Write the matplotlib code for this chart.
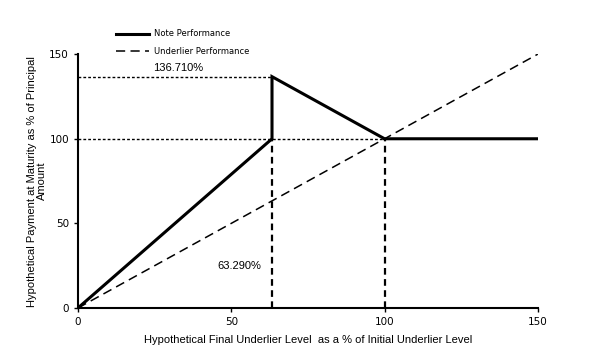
import matplotlib
matplotlib.use("Agg")
import matplotlib.pyplot as plt

# Data
note_x = [0, 63.29, 63.29, 100, 150]
note_y = [0, 100, 136.71, 100, 100]
under_x = [0, 150]
under_y = [0, 150]
barrier = 63.29
cap = 136.71
xticks = [0, 50, 100, 150]
yticks = [0, 50, 100, 150]

fig = plt.figure(figsize=(6.07, 3.54), dpi=100)
ax = fig.add_axes([0.1285, 0.130, 0.7575, 0.717])

ax.plot(note_x, note_y, color='black', lw=2.2, label='Note Performance', solid_joinstyle='miter')
ax.plot(under_x, under_y, color='black', lw=1.1, ls=(0, (6, 3.5)), label='Underlier Performance')

# reference lines
ax.plot([0, barrier], [cap, cap], color='black', lw=1.0, ls=(0, (2, 1.5)))
ax.plot([0, 100], [100, 100], color='black', lw=1.0, ls=(0, (2, 1.5)))
ax.plot([barrier, barrier], [0, 100], color='black', lw=1.6, ls=(0, (3, 2)))
ax.plot([100, 100], [0, 100], color='black', lw=1.6, ls=(0, (3, 2)))

ax.text(32.6, 142, '136.710%', fontsize=8, ha='center', va='center', family='Liberation Sans')
ax.text(52.5, 25, '63.290%', fontsize=8, ha='center', va='center', family='Liberation Sans')

ax.set_xlim(0, 150)
ax.set_ylim(0, 150)
ax.set_xticks(xticks)
ax.set_yticks(yticks)
ax.tick_params(labelsize=7.5, length=3, width=1, direction='out')
for lab in ax.get_xticklabels() + ax.get_yticklabels():
    lab.set_family('DejaVu Sans')
ax.spines['top'].set_visible(False)
ax.spines['right'].set_visible(False)
ax.spines['left'].set_linewidth(1.5)
ax.spines['bottom'].set_linewidth(1.5)

ax.set_xlabel('Hypothetical Final Underlier Level  as a % of Initial Underlier Level',
              fontsize=8, family='Liberation Sans', labelpad=6)
ax.set_ylabel('Hypothetical Payment at Maturity as % of Principal\nAmount',
              fontsize=8, family='Liberation Sans', labelpad=1.5, linespacing=1.0)

leg = ax.legend(loc='upper left', bbox_to_anchor=(0.066, 1.127), frameon=False,
                prop={'family': 'Liberation Sans Narrow', 'size': 6},
                handlelength=4.0, labelspacing=1.0, handletextpad=0.6)

fig.savefig('out.png', dpi=100)
